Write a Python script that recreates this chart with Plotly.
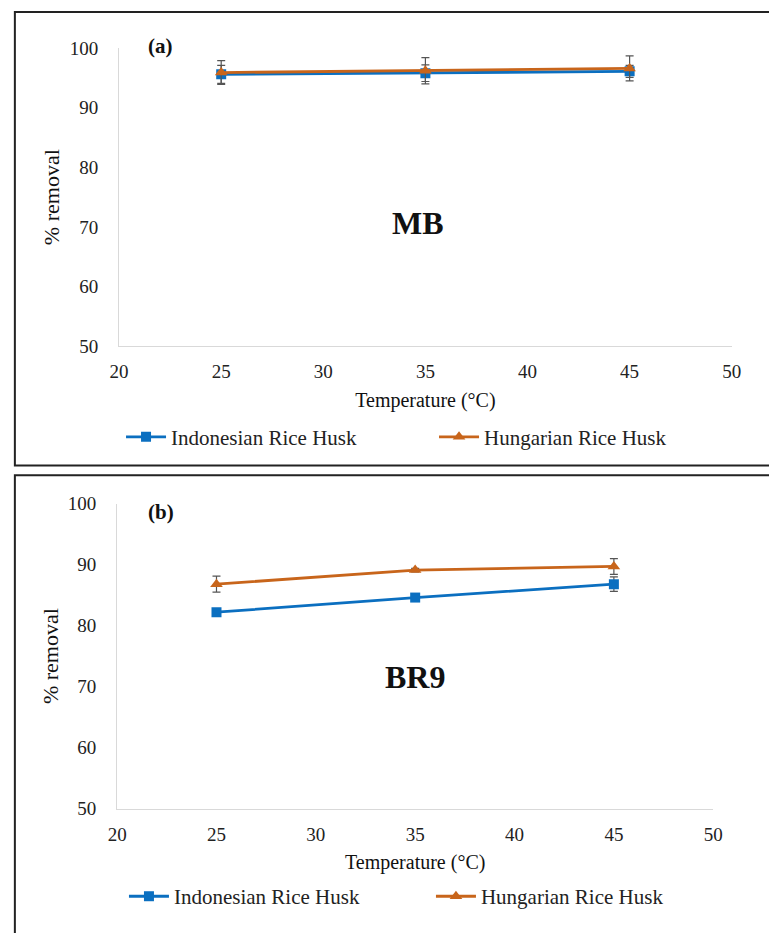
import plotly.graph_objects as go

# The page body keeps an 8px margin: reference pixel positions are shifted by 8px,
# and the figure is made large enough to cover the whole window.
OFF = 8
W, H = 777 - OFF, 941 - OFF

temps = [25, 35, 45]
x_ticks = [20, 25, 30, 35, 40, 45, 50]
y_ticks = [50, 60, 70, 80, 90, 100]

# Panel (a) MB
mb_indo = [95.6, 95.8, 96.1]
mb_indo_err = [1.5, 1.4, 1.0]
mb_hung = [95.9, 96.2, 96.6]
mb_hung_err = [2.0, 2.2, 2.1]

# Panel (b) BR9
br_indo = [82.2, 84.6, 86.8]
br_indo_err = [0.4, 0.3, 1.2]
br_hung = [86.8, 89.1, 89.7]
br_hung_err = [1.3, 0.3, 1.3]

series_names = ["Indonesian Rice Husk", "Hungarian Rice Husk"]
panel_labels = ["(a)", "(b)"]
dye_labels = ["MB", "BR9"]

BLUE = "#0B6FC0"
ORANGE = "#C8651B"
FONT = "Liberation Serif"

def px(x):
    return (x - OFF) / W

def py(y):
    return 1 - (y - OFF) / H

fig = go.Figure()

def add_pair(indo, indo_err, hung, hung_err, xa, ya, leg):
    fig.add_trace(go.Scatter(
        x=temps, y=indo, name=series_names[0], mode="lines+markers",
        line=dict(color=BLUE, width=2.8),
        marker=dict(symbol="square", size=10, color=BLUE),
        error_y=dict(type="data", array=indo_err, color="#555555", thickness=1.2, width=4),
        xaxis=xa, yaxis=ya, legend=leg))
    fig.add_trace(go.Scatter(
        x=temps, y=hung, name=series_names[1], mode="lines+markers",
        line=dict(color=ORANGE, width=2.8),
        marker=dict(symbol="triangle-up", size=11, color=ORANGE),
        error_y=dict(type="data", array=hung_err, color="#555555", thickness=1.2, width=4),
        xaxis=xa, yaxis=ya, legend=leg))

add_pair(mb_indo, mb_indo_err, mb_hung, mb_hung_err, "x", "y", "legend")
add_pair(br_indo, br_indo_err, br_hung, br_hung_err, "x2", "y2", "legend2")

axis_font = dict(family=FONT, size=19, color="#222222")
title_font = dict(family=FONT, size=20, color="#111111")

def xaxis_def(domain, anchor):
    return dict(domain=domain, anchor=anchor, range=[20, 50], tickvals=x_ticks,
                showgrid=False, zeroline=False, showline=True, linecolor="#D9D9D9",
                linewidth=1.2, ticks="", tickfont=axis_font, ticklabelstandoff=8,
                title=dict(text="Temperature (°C)", font=title_font, standoff=11))

def yaxis_def(domain, anchor):
    return dict(domain=domain, anchor=anchor, range=[50, 100], tickvals=y_ticks,
                showgrid=False, zeroline=False, showline=True, linecolor="#D9D9D9",
                linewidth=1.2, ticks="", tickfont=axis_font, ticklabelstandoff=16,
                title=dict(text="% removal", font=dict(family=FONT, size=22, color="#111111"),
                           standoff=3))

fig.update_layout(
    width=W, height=H, margin=dict(l=0, r=0, t=0, b=0),
    paper_bgcolor="white", plot_bgcolor="white",
    font=dict(family=FONT),
    xaxis=xaxis_def([px(120), px(749)], "y"),
    yaxis=yaxis_def([py(352), py(47)], "x"),
    xaxis2=xaxis_def([px(118), px(730)], "y2"),
    yaxis2=yaxis_def([py(825), py(513)], "x2"),
    legend=dict(orientation="h", x=px(122), y=py(445), xanchor="left", yanchor="middle",
                font=dict(family=FONT, size=21, color="#222222"), entrywidth=258,
                itemwidth=40, bgcolor="rgba(0,0,0,0)"),
    legend2=dict(orientation="h", x=px(125), y=py(915), xanchor="left", yanchor="middle",
                 font=dict(family=FONT, size=21, color="#222222"), entrywidth=252,
                 itemwidth=40, bgcolor="rgba(0,0,0,0)"),
)

# Panel frames
fig.add_shape(type="rect", xref="paper", yref="paper", x0=px(13), x1=px(800),
              y0=py(474), y1=py(10), line=dict(color="#222222", width=2), layer="below")
fig.add_shape(type="rect", xref="paper", yref="paper", x0=px(13), x1=px(800),
              y0=py(970), y1=py(484), line=dict(color="#222222", width=2), layer="below")

# Labels
for lab, (x, y) in zip(panel_labels, [(163, 45), (163, 522)]):
    fig.add_annotation(text="<b>" + lab + "</b>", xref="paper", yref="paper",
                       x=px(x), y=py(y), showarrow=False, xanchor="center", yanchor="middle",
                       font=dict(family=FONT, size=21, color="#111111"))
for lab, (x, y) in zip(dye_labels, [(427, 226), (424, 690)]):
    fig.add_annotation(text="<b>" + lab + "</b>", xref="paper", yref="paper",
                       x=px(x), y=py(y), showarrow=False, xanchor="center", yanchor="middle",
                       font=dict(family=FONT, size=32, color="#111111"))

fig.write_html("out.html")
